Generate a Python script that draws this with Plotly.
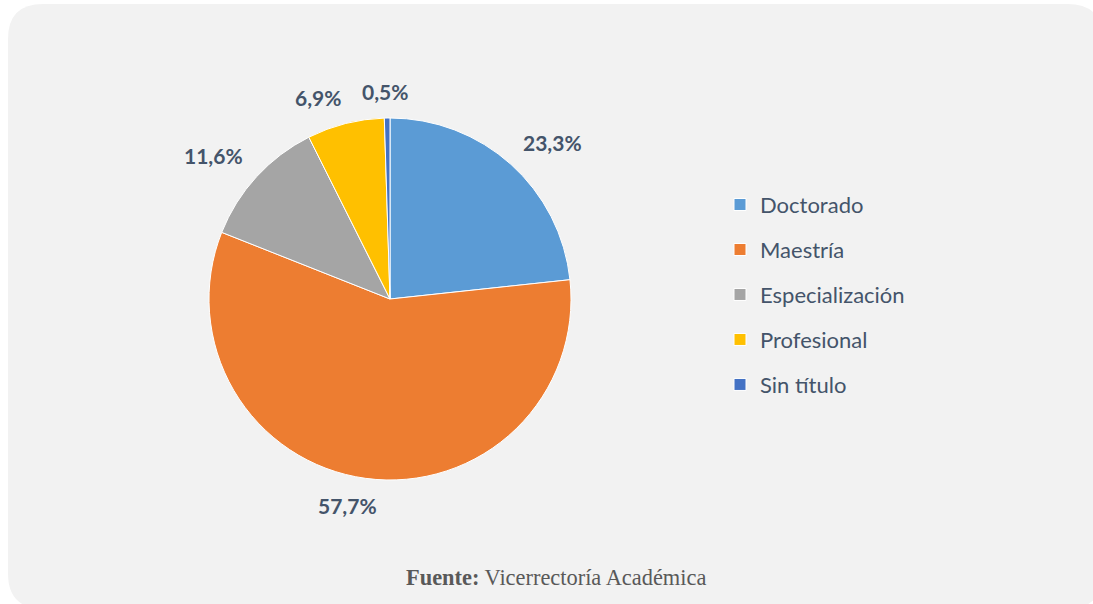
import math
import plotly.graph_objects as go

categories = ["Doctorado", "Maestría", "Especialización", "Profesional", "Sin título"]
values = [23.3, 57.7, 11.6, 6.9, 0.5]
value_labels = ["23,3%", "57,7%", "11,6%", "6,9%", "0,5%"]
colors = ["#5B9BD5", "#ED7D31", "#A5A5A5", "#FFC000", "#4472C4"]

W, H = 1093, 604
# pie geometry in pixels
cx, cy, r = 390, 299, 181
dom_x = [(cx - r) / W, (cx + r) / W]
dom_y = [1 - (cy + r) / H, 1 - (cy - r) / H]

fig = go.Figure()
fig.add_trace(go.Pie(
    labels=[f'<span style="font-size:22px;baseline-shift:4px">{c}</span>' for c in categories],
    values=values,
    sort=False,
    direction="clockwise",
    rotation=0,
    marker=dict(colors=colors, line=dict(color="#FFFFFF", width=1)),
    textinfo="none",
    hoverinfo="label+percent",
    domain=dict(x=dom_x, y=dom_y),
))

# data labels placed outside each slice ("outside end" style), computed from the values
def clamp(v):
    return max(-1.0, min(1.0, v))

total = sum(values)
cum = 0
annotations = []
R0 = r + 19
th = 16
for v, lab in zip(values, value_labels):
    mid = (cum + v / 2) / total * 2 * math.pi
    cum += v
    sx, sy = math.sin(mid), -math.cos(mid)
    tw = 11.7 * len(lab)
    px = cx + R0 * sx + tw / 2 * clamp(4 * sx)
    py = cy + R0 * sy + th / 2 * clamp(4 * sy)
    annotations.append(dict(
        x=px / W, y=1 - py / H, xref="paper", yref="paper",
        text=f"<b>{lab}</b>", showarrow=False,
        font=dict(family="Lato", size=21, color="#44546A"),
        xanchor="center", yanchor="middle",
    ))

annotations.append(dict(
    x=556 / W, y=1 - 577 / H, xref="paper", yref="paper",
    text="<b>Fuente:</b> Vicerrectoría Académica", showarrow=False,
    font=dict(family="Liberation Serif", size=22.4, color="#595959"),
    xanchor="center", yanchor="middle",
))

# rounded background panel
x0, y0, x1, y1, rad = 8, 4, 1102.5, 608.6, 35
def P(x, y):
    return f"{x / W:.5f},{1 - y / H:.5f}"
path = (f"M {P(x0 + rad, y0)} L {P(x1 - rad, y0)} Q {P(x1, y0)} {P(x1, y0 + rad)} "
        f"L {P(x1, y1 - rad)} Q {P(x1, y1)} {P(x1 - rad, y1)} "
        f"L {P(x0 + rad, y1)} Q {P(x0, y1)} {P(x0, y1 - rad)} "
        f"L {P(x0, y0 + rad)} Q {P(x0, y0)} {P(x0 + rad, y0)} Z")

fig.update_layout(
    width=W, height=H,
    margin=dict(l=0, r=0, t=0, b=0),
    paper_bgcolor="#FFFFFF",
    plot_bgcolor="rgba(0,0,0,0)",
    shapes=[dict(type="path", path=path, xref="paper", yref="paper",
                 fillcolor="#F2F2F2", line=dict(width=0), layer="below")],
    annotations=annotations,
    showlegend=True,
    legend=dict(
        x=720 / W, y=1 - 177 / H, xanchor="left", yanchor="top",
        font=dict(family="Lato", size=32.3, color="#44546A"),
        bgcolor="rgba(0,0,0,0)",
    ),
)

fig.write_html("out.html", config={"displayModeBar": False},
               post_script="document.body.style.margin='0';document.body.style.overflow='hidden';")
